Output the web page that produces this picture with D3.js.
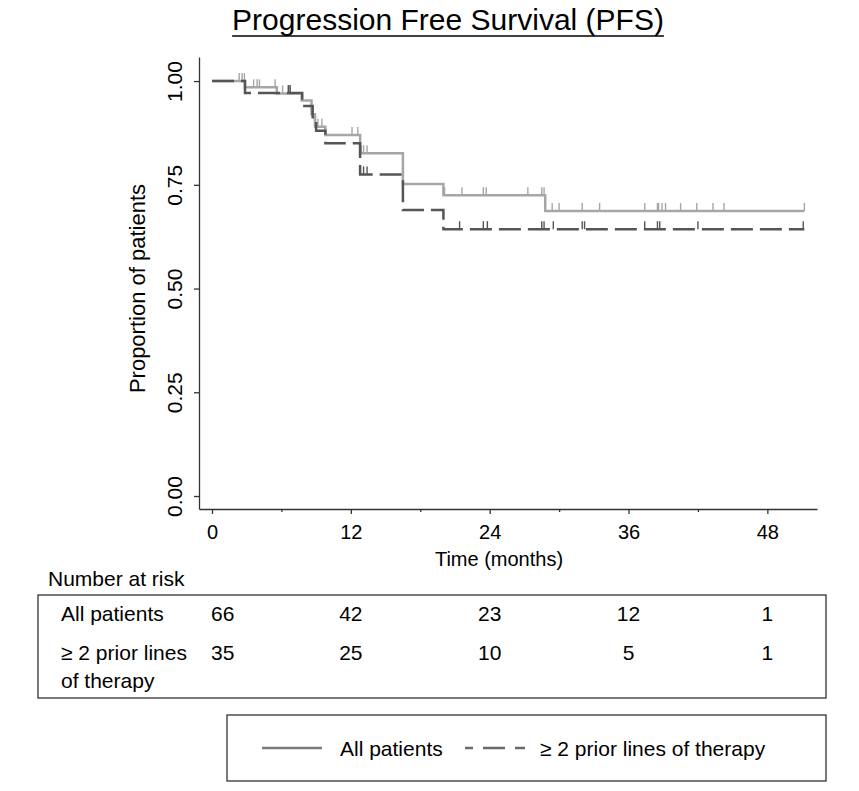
<!DOCTYPE html>
<html>
<head>
<meta charset="utf-8">
<script src="https://cdn.jsdelivr.net/npm/d3@7"></script>
<style>
  html, body { margin: 0; padding: 0; background: #fff; }
  svg { display: block; font-family: "Liberation Sans", Arial, Helvetica, sans-serif; }
</style>
</head>
<body>
<svg id="chart" width="859" height="791"></svg>
<script>
// ---- data ----
const timeTicks = [0, 12, 24, 36, 48];
const minorTimeTicks = [6, 18, 30, 42];
const yTicks = [0, 0.25, 0.5, 0.75, 1];

const allTimes = [0, 2.85, 5.6, 7.75, 8.6, 8.9, 9.8, 12.8, 16.5, 20, 28.8];
const allSurv  = [1, 0.985, 0.970, 0.953, 0.92, 0.89, 0.870, 0.826, 0.752, 0.725, 0.687];
const allEnd = 51.2;
const allCensor = [2.35, 2.6, 2.8, 3.6, 3.9, 4.1, 5.45, 6.1, 6.6, 6.75, 9.15, 9.5, 12.1, 12.6,
  12.9, 13.1, 13.4, 20.1, 21.6, 23.45, 23.7, 27.3, 28.5, 28.7, 29.4, 30.0, 32.0, 33.5,
  37.4, 38.5, 38.6, 38.9, 39.2, 40.5, 41.9, 43.3, 44.25, 51.2];

const priorTimes = [0, 2.85, 7.8, 8.7, 9.0, 9.8, 12.8, 16.5, 20];
const priorSurv  = [1, 0.971, 0.94, 0.91, 0.88, 0.85, 0.775, 0.689, 0.643];
const priorEnd = 51.2;
const priorCensor = [6.6, 6.75, 13.1, 13.4, 21.4, 23.45, 23.8, 28.5, 28.7, 29.5, 32.0, 32.2,
  37.4, 38.5, 38.7, 42, 51.1];

const seriesNames = ["All patients", "\u2265 2 prior lines of therapy"];
const riskRowLabels = [["All patients"], ["\u2265 2 prior lines", "of therapy"]];
const riskAll = [66, 42, 23, 12, 1];
const riskPrior = [35, 25, 10, 5, 1];

// ---- layout ----
const svg = d3.select("#chart");
const FONT = 20, FONT_T = 21, FONT_Y = 21, FONT_YT = 22;
const grayCol = "#a6a6a6", darkCol = "#555555", axisCol = "#333333";

const x = d3.scaleLinear().domain([-1.124, 52.29]).range([199, 817]);
const y = d3.scaleLinear().domain([-0.0313, 1.058]).range([509, 57]);

// title
const title = svg.append("text")
  .attr("x", 448).attr("y", 30)
  .attr("text-anchor", "middle")
  .attr("font-size", 30).attr("fill", "#000")
  .text("Progression Free Survival (PFS)");
const tb = title.node().getBBox();
svg.append("line")
  .attr("x1", tb.x).attr("x2", tb.x + tb.width)
  .attr("y1", 36).attr("y2", 36)
  .attr("stroke", "#000").attr("stroke-width", 1.6);

// x axis
const xAxis = svg.append("g").attr("transform", "translate(0,509)")
  .call(d3.axisBottom(x).tickValues(timeTicks).tickSize(5).tickSizeOuter(0).tickPadding(11));
xAxis.select(".domain").attr("stroke", axisCol).attr("stroke-width", 1.3);
xAxis.selectAll(".tick line").attr("stroke", axisCol).attr("stroke-width", 1.3);
xAxis.selectAll("text").attr("font-size", FONT).attr("font-family", null).attr("fill", "#000");
const xMinor = svg.append("g").attr("transform", "translate(0,509)")
  .call(d3.axisBottom(x).tickValues(minorTimeTicks).tickSize(3).tickSizeOuter(0).tickFormat(""));
xMinor.select(".domain").remove();
xMinor.selectAll(".tick line").attr("stroke", axisCol).attr("stroke-width", 1.3);

// y axis
const yAxis = svg.append("g").attr("transform", "translate(199,0)")
  .call(d3.axisLeft(y).tickValues(yTicks).tickSize(5).tickSizeOuter(0).tickFormat(d3.format(".2f")));
yAxis.select(".domain").attr("stroke", axisCol).attr("stroke-width", 1.3);
yAxis.selectAll(".tick line").attr("stroke", axisCol).attr("stroke-width", 1.3);
yAxis.selectAll("text")
  .attr("font-size", FONT_Y).attr("font-family", null).attr("fill", "#000")
  .attr("transform", "rotate(-90)")
  .attr("x", 0).attr("y", -17).attr("dy", 0)
  .attr("text-anchor", "middle");

// axis titles
svg.append("text")
  .attr("transform", `translate(145,${(y(0) + y(1)) / 2}) rotate(-90)`)
  .attr("text-anchor", "middle").attr("font-size", FONT_YT).attr("fill", "#000")
  .text("Proportion of patients");
svg.append("text")
  .attr("x", 499).attr("y", 566)
  .attr("text-anchor", "middle").attr("font-size", FONT).attr("fill", "#000")
  .text("Time (months)");

// curves
function stepPoints(times, surv, end) {
  const pts = times.map((t, i) => [t, surv[i]]);
  pts.push([end, surv[surv.length - 1]]);
  return pts;
}
function survAt(times, surv, t) {
  let s = surv[0];
  for (let i = 0; i < times.length; i++) if (times[i] <= t) s = surv[i];
  return s;
}
const line = d3.line().x(d => x(d[0])).y(d => y(d[1])).curve(d3.curveStepAfter);

const plot = svg.append("g");
// All patients
plot.append("path")
  .attr("d", line(stepPoints(allTimes, allSurv, allEnd)))
  .attr("fill", "none").attr("stroke", grayCol).attr("stroke-width", 2.5);
plot.selectAll(".cAll").data(allCensor).join("line")
  .attr("x1", d => x(d)).attr("x2", d => x(d))
  .attr("y1", d => y(survAt(allTimes, allSurv, d)))
  .attr("y2", d => y(survAt(allTimes, allSurv, d)) - 8)
  .attr("stroke", grayCol).attr("stroke-width", 1.4);
// >= 2 prior lines
plot.append("path")
  .attr("d", line(stepPoints(priorTimes, priorSurv, priorEnd)))
  .attr("fill", "none").attr("stroke", darkCol).attr("stroke-width", 2.5)
  .attr("stroke-dasharray", "22,7");
plot.selectAll(".cPrior").data(priorCensor).join("line")
  .attr("x1", d => x(d)).attr("x2", d => x(d))
  .attr("y1", d => y(survAt(priorTimes, priorSurv, d)))
  .attr("y2", d => y(survAt(priorTimes, priorSurv, d)) - 8)
  .attr("stroke", darkCol).attr("stroke-width", 1.4);

// number at risk
svg.append("text").attr("x", 48).attr("y", 586)
  .attr("font-size", FONT_T).attr("fill", "#000").text("Number at risk");
svg.append("rect").attr("x", 38).attr("y", 595).attr("width", 788).attr("height", 103)
  .attr("fill", "none").attr("stroke", axisCol).attr("stroke-width", 1.3);
const rowBase = [621, 660];
riskRowLabels.forEach((lines, r) => {
  const t = svg.append("text").attr("x", 61).attr("y", rowBase[r])
    .attr("font-size", FONT_T).attr("fill", "#000");
  lines.forEach((ln, k) => t.append("tspan").attr("x", 61).attr("dy", k === 0 ? 0 : 28).text(ln));
});
[riskAll, riskPrior].forEach((vals, r) => {
  svg.selectAll(null).data(vals).join("text")
    .attr("x", (d, i) => i === 0 ? x(timeTicks[i]) - 1 : x(timeTicks[i]))
    .attr("y", rowBase[r])
    .attr("text-anchor", (d, i) => i === 0 ? "start" : "middle")
    .attr("font-size", FONT_T).attr("fill", "#000")
    .text(d => d);
});

// legend
svg.append("rect").attr("x", 227).attr("y", 715).attr("width", 599).attr("height", 66)
  .attr("fill", "none").attr("stroke", axisCol).attr("stroke-width", 1.3);
svg.append("line").attr("x1", 262).attr("x2", 322).attr("y1", 748).attr("y2", 748)
  .attr("stroke", "#7a7a7a").attr("stroke-width", 2.5);
svg.append("text").attr("x", 340).attr("y", 755.5).attr("font-size", FONT_T).attr("fill", "#000")
  .text(seriesNames[0]);
svg.append("line").attr("x1", 465).attr("x2", 525).attr("y1", 748).attr("y2", 748)
  .attr("stroke", "#6a6a6a").attr("stroke-width", 2.5)
  .attr("stroke-dasharray", "8,10,22,10,10,10");
svg.append("text").attr("x", 540).attr("y", 755.5).attr("font-size", FONT_T).attr("fill", "#000")
  .text(seriesNames[1]);
</script>
</body>
</html>
